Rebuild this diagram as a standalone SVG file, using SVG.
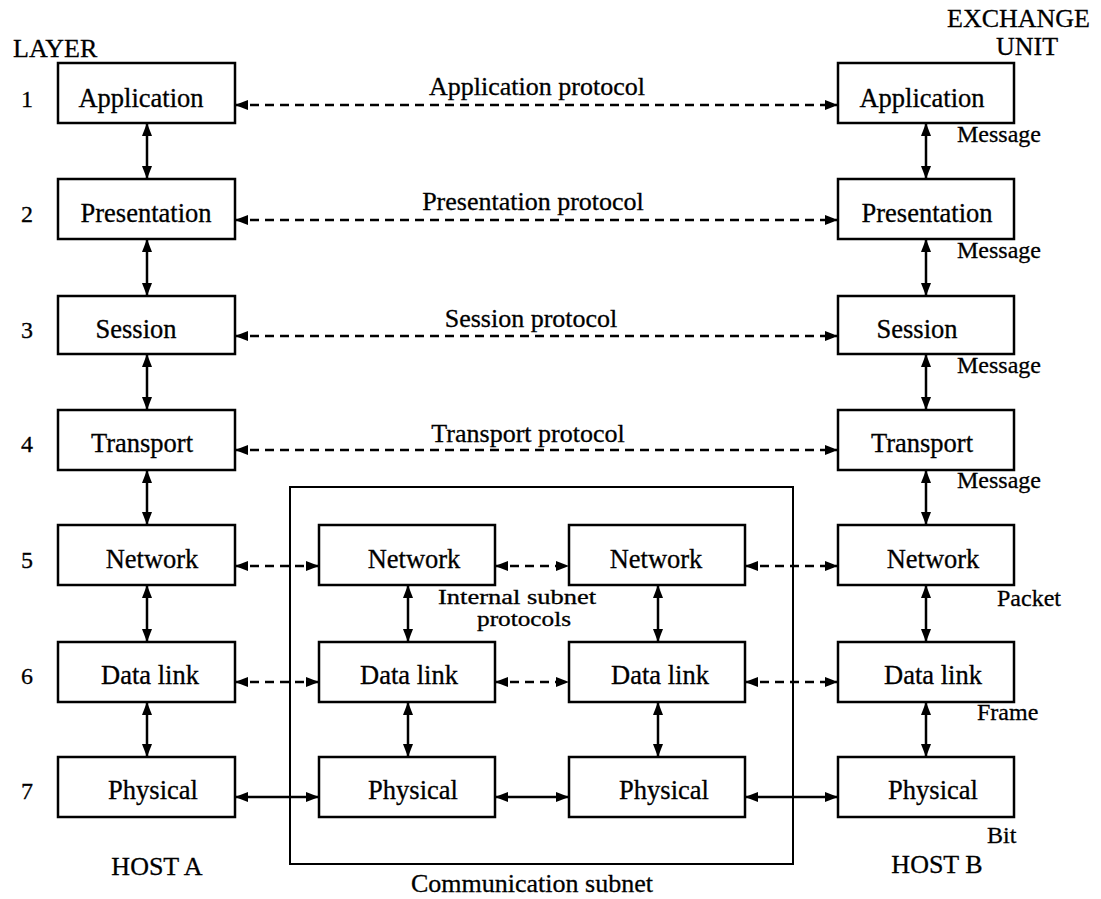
<svg xmlns="http://www.w3.org/2000/svg" width="1101" height="899" viewBox="0 0 1101 899">
<defs>
<marker id="ah" markerUnits="userSpaceOnUse" markerWidth="14" markerHeight="10" refX="13" refY="5" orient="auto-start-reverse">
<path d="M0,0 L13,5 L0,10 z" fill="#000"/>
</marker>
<style>
text{font-family:"Liberation Serif","Times New Roman",serif;fill:#000;stroke:#000;stroke-width:0.3}
.box{fill:#fff;stroke:#000;stroke-width:2.5}
.t{font-size:26.5px;text-anchor:middle}
.l{font-size:26px}
.m{font-size:24px}
.c{font-size:26px;text-anchor:middle}
.n{font-size:24px;text-anchor:middle}
.i{font-size:20px;text-anchor:middle}
.v{stroke:#000;stroke-width:2.5;fill:none;marker-start:url(#ah);marker-end:url(#ah)}
.d{stroke:#000;stroke-width:2.5;fill:none;stroke-dasharray:9 6;marker-start:url(#ah);marker-end:url(#ah)}
.s{stroke:#000;stroke-width:2.5;fill:none;marker-start:url(#ah);marker-end:url(#ah)}
</style>
</defs>
<rect id="subnet" x="290" y="487" width="503" height="377" fill="none" stroke="#000" stroke-width="2"/>
<g id="labels">
<text class="l" x="13" y="57">LAYER</text>
<text class="l" x="947" y="27">EXCHANGE</text>
<text class="l" x="996" y="55">UNIT</text>
<text class="n" x="27" y="107">1</text>
<text class="n" x="27" y="222">2</text>
<text class="n" x="27" y="338">3</text>
<text class="n" x="27" y="452">4</text>
<text class="n" x="27" y="568">5</text>
<text class="n" x="27" y="684">6</text>
<text class="n" x="27" y="799">7</text>
<text class="c" x="537" y="95">Application protocol</text>
<text class="c" x="533" y="210">Presentation protocol</text>
<text class="c" x="531" y="327">Session protocol</text>
<text class="c" x="528" y="442">Transport protocol</text>
<text class="m" x="957" y="142">Message</text>
<text class="m" x="957" y="258">Message</text>
<text class="m" x="957" y="373">Message</text>
<text class="m" x="957" y="488">Message</text>
<text class="m" x="997" y="606">Packet</text>
<text class="m" x="977" y="720">Frame</text>
<text class="m" x="987" y="843">Bit</text>
<text class="i" x="517" y="604" textLength="158" lengthAdjust="spacingAndGlyphs">Internal subnet</text>
<text class="i" x="524" y="626" textLength="94" lengthAdjust="spacingAndGlyphs">protocols</text>
<text class="c" x="157" y="875">HOST A</text>
<text class="c" x="937" y="873">HOST B</text>
<text class="c" x="532" y="892">Communication subnet</text>
</g>
<g id="connectors">
<line class="d" x1="235" y1="105" x2="838" y2="105"/>
<line class="d" x1="235" y1="220" x2="838" y2="220"/>
<line class="d" x1="235" y1="336" x2="838" y2="336"/>
<line class="d" x1="235" y1="450" x2="838" y2="450"/>
<line class="d" x1="235" y1="566" x2="319" y2="566"/>
<line class="d" x1="495" y1="566" x2="569" y2="566"/>
<line class="d" x1="745" y1="566" x2="838" y2="566"/>
<line class="d" x1="235" y1="682" x2="319" y2="682"/>
<line class="d" x1="495" y1="682" x2="569" y2="682"/>
<line class="d" x1="745" y1="682" x2="838" y2="682"/>
<line class="s" x1="235" y1="797" x2="319" y2="797"/>
<line class="s" x1="495" y1="797" x2="569" y2="797"/>
<line class="s" x1="745" y1="797" x2="838" y2="797"/>
<line class="v" x1="147" y1="123" x2="147" y2="179"/>
<line class="v" x1="147" y1="239" x2="147" y2="296"/>
<line class="v" x1="147" y1="354" x2="147" y2="410"/>
<line class="v" x1="147" y1="470" x2="147" y2="525"/>
<line class="v" x1="147" y1="585" x2="147" y2="642"/>
<line class="v" x1="147" y1="702" x2="147" y2="757"/>
<line class="v" x1="926" y1="123" x2="926" y2="179"/>
<line class="v" x1="926" y1="239" x2="926" y2="296"/>
<line class="v" x1="926" y1="354" x2="926" y2="410"/>
<line class="v" x1="926" y1="470" x2="926" y2="525"/>
<line class="v" x1="926" y1="585" x2="926" y2="642"/>
<line class="v" x1="926" y1="702" x2="926" y2="757"/>
<line class="v" x1="408" y1="585" x2="408" y2="642"/>
<line class="v" x1="408" y1="702" x2="408" y2="757"/>
<line class="v" x1="658" y1="585" x2="658" y2="642"/>
<line class="v" x1="658" y1="702" x2="658" y2="757"/>
</g>
<g id="a-app"><rect class="box" x="58" y="63" width="177" height="60"/><text class="t" x="141" y="107">Application</text></g>
<g id="a-pres"><rect class="box" x="58" y="179" width="177" height="60"/><text class="t" x="146" y="222">Presentation</text></g>
<g id="a-sess"><rect class="box" x="58" y="296" width="177" height="58"/><text class="t" x="136" y="338">Session</text></g>
<g id="a-trans"><rect class="box" x="58" y="410" width="177" height="60"/><text class="t" x="142" y="452">Transport</text></g>
<g id="a-net"><rect class="box" x="58" y="525" width="177" height="60"/><text class="t" x="152" y="568">Network</text></g>
<g id="a-dl"><rect class="box" x="58" y="642" width="177" height="60"/><text class="t" x="150" y="684">Data link</text></g>
<g id="a-phy"><rect class="box" x="58" y="757" width="177" height="60"/><text class="t" x="153" y="799">Physical</text></g>
<g id="m1-net"><rect class="box" x="319" y="525" width="176" height="60"/><text class="t" x="414" y="568">Network</text></g>
<g id="m1-dl"><rect class="box" x="319" y="642" width="176" height="60"/><text class="t" x="409" y="684">Data link</text></g>
<g id="m1-phy"><rect class="box" x="319" y="757" width="176" height="60"/><text class="t" x="413" y="799">Physical</text></g>
<g id="m2-net"><rect class="box" x="569" y="525" width="176" height="60"/><text class="t" x="656" y="568">Network</text></g>
<g id="m2-dl"><rect class="box" x="569" y="642" width="176" height="60"/><text class="t" x="660" y="684">Data link</text></g>
<g id="m2-phy"><rect class="box" x="569" y="757" width="176" height="60"/><text class="t" x="664" y="799">Physical</text></g>
<g id="b-app"><rect class="box" x="838" y="63" width="176" height="60"/><text class="t" x="922" y="107">Application</text></g>
<g id="b-pres"><rect class="box" x="838" y="179" width="176" height="60"/><text class="t" x="927" y="222">Presentation</text></g>
<g id="b-sess"><rect class="box" x="838" y="296" width="176" height="58"/><text class="t" x="917" y="338">Session</text></g>
<g id="b-trans"><rect class="box" x="838" y="410" width="176" height="60"/><text class="t" x="922" y="452">Transport</text></g>
<g id="b-net"><rect class="box" x="838" y="525" width="176" height="60"/><text class="t" x="933" y="568">Network</text></g>
<g id="b-dl"><rect class="box" x="838" y="642" width="176" height="60"/><text class="t" x="933" y="684">Data link</text></g>
<g id="b-phy"><rect class="box" x="838" y="757" width="176" height="60"/><text class="t" x="933" y="799">Physical</text></g>
</svg>
